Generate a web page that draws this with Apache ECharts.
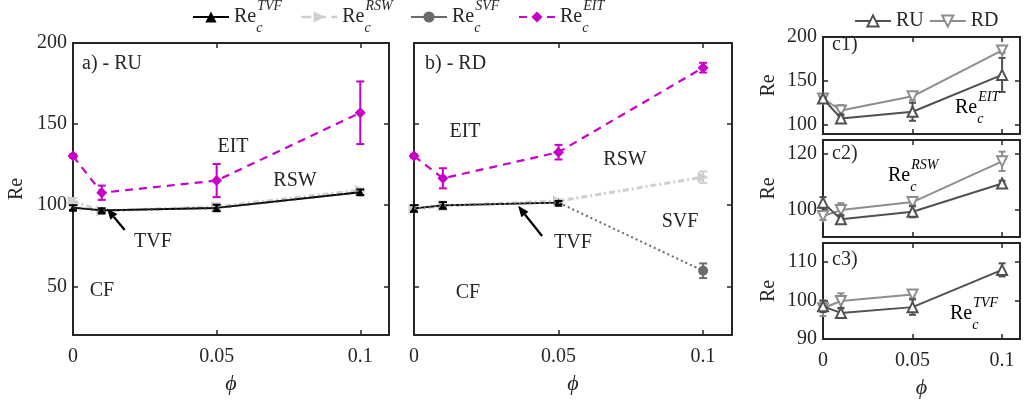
<!DOCTYPE html>
<html><head><meta charset="utf-8">
<script src="https://cdn.jsdelivr.net/npm/echarts@6/dist/echarts.min.js"></script>
<style>html,body{margin:0;padding:0;background:#fff}#c{width:1024px;height:400px}</style>
</head><body><div id="c"></div>
<script>
// ---------- data ----------
const phi = [0, 0.01, 0.05, 0.1];
const xTicks = [0, 0.05, 0.1];
const abYTicks = [50, 100, 150, 200];
const c1YTicks = [100, 150, 200];
const c2YTicks = [100, 120];
const c3YTicks = [90, 100, 110];

// panel a (RU)
const aTVF = [98.5, 96.8, 98.3, 108.0];
const aTVFerr = [1.5, 1.3, 2.0, 1.7];
const aRSW = [102.4, 96.4, 99.1, 109.3];
const aRSWerr = [2.0, 1.5, 2.0, 1.0];
const aSVF = [98.5, 96.8, 98.3, 108.0];
const aEIT = [130.3, 107.7, 115.2, 157.0];
const aEITerr = [1.0, 4.4, 10.2, 19.3];
// panel b (RD)
const bTVF = [98.0, 99.9, 101.6, null];
const bTVFerr = [2.0, 2.0, 1.0, null];
const bRSW = [97.6, 99.7, 102.6, 117.3];
const bRSWerr = [1.5, 2.5, 1.0, 3.5];
const bSVF = [98.0, 99.9, 101.6, 59.6];
const bSVFerr = [null, null, null, 4.5];
const bEIT = [130.3, 116.6, 132.7, 184.8];
const bEITerr = [1.0, 6.2, 4.5, 3.0];

// arrows (data coordinates) pointing at the TVF boundary
const arrowA = [[0.018, 84.7], [0.0118, 98.0]];
const arrowB = [[0.0443, 81.0], [0.036, 99.6]];

// ---------- style ----------
const FONT = 'Liberation Serif';
const TXT = '#262626';
const colTVF = '#000000', colRSW = '#cfcfcf', colSVF = '#6a6a6a', colEIT = '#c800c8';
const colRU = '#505050', colRD = '#8e8e8e';

const rich = {
  re: {fontFamily: FONT, fontSize: 20, color: TXT, lineHeight: 36, verticalAlign: 'middle'},
  sb: {fontFamily: FONT, fontSize: 14, fontStyle: 'italic', color: TXT, lineHeight: 12, verticalAlign: 'bottom', width: 0},
  sp: {fontFamily: FONT, fontSize: 14, fontStyle: 'italic', color: TXT, lineHeight: 25, verticalAlign: 'top', padding: [0, 0, 0, 1]}
};
const reLabel = s => '{re|Re}{sb|c}{sp|' + s + '}';

const grids = [
  {left: 73, top: 43, width: 316, height: 295},
  {left: 414, top: 43, width: 318, height: 295},
  {left: 823, top: 37, width: 197, height: 97},
  {left: 823, top: 140, width: 197, height: 97},
  {left: 823, top: 243, width: 197, height: 96}
];

const lineSt = {color: TXT, width: 2};
const tickSt = {color: TXT, width: 1.5};
const labelSt = {fontFamily: FONT, fontSize: 20, color: TXT};

const xAxes = [], yAxes = [];
function addAxes(g, xLabel, yMin, yMax, yTicks, yLabel, yName) {
  xAxes.push({
    type: 'value', gridIndex: g, min: 0, max: 0.11, position: 'bottom',
    axisLine: {show: true, onZero: false, lineStyle: lineSt},
    axisTick: {show: true, inside: true, length: 5, customValues: xTicks, lineStyle: tickSt},
    axisLabel: Object.assign({show: xLabel, customValues: xTicks, margin: 12, formatter: v => String(v)}, labelSt),
    splitLine: {show: false},
    name: xLabel ? 'ϕ' : '', nameLocation: 'middle', nameGap: 38,
    nameTextStyle: {fontFamily: FONT, fontStyle: 'italic', fontSize: 22, color: TXT}
  });
  xAxes.push({
    type: 'value', gridIndex: g, min: 0, max: 0.11, position: 'top',
    axisLine: {show: true, onZero: false, lineStyle: lineSt},
    axisTick: {show: true, inside: true, length: 5, customValues: xTicks, lineStyle: tickSt},
    axisLabel: {show: false}, splitLine: {show: false}
  });
  yAxes.push({
    type: 'value', gridIndex: g, min: yMin, max: yMax, position: 'left',
    axisLine: {show: true, onZero: false, lineStyle: lineSt},
    axisTick: {show: true, inside: true, length: 5, customValues: yTicks, lineStyle: tickSt},
    axisLabel: Object.assign({show: yLabel, customValues: yTicks, margin: 6}, labelSt),
    splitLine: {show: false},
    name: yName ? 'Re' : '', nameLocation: 'middle', nameGap: g < 2 ? 46 : 44, nameRotate: 90,
    nameTextStyle: {fontFamily: FONT, fontSize: 20, color: TXT}
  });
  yAxes.push({
    type: 'value', gridIndex: g, min: yMin, max: yMax, position: 'right',
    axisLine: {show: true, onZero: false, lineStyle: lineSt},
    axisTick: {show: true, inside: true, length: 5, customValues: yTicks, lineStyle: tickSt},
    axisLabel: {show: false}, splitLine: {show: false}
  });
}
addAxes(0, true, 20, 200, abYTicks, true, true);
addAxes(1, true, 20, 200, abYTicks, false, false);
addAxes(2, false, 90, 200, c1YTicks, true, true);
addAxes(3, false, 90, 125, c2YTicks, true, true);
addAxes(4, true, 90, 115, c3YTicks, true, true);

function pts(vals, hideIdx) {
  const out = [];
  phi.forEach((x, i) => {
    if (vals[i] == null) return;
    if (hideIdx && hideIdx.indexOf(i) >= 0) out.push({value: [x, vals[i]], symbol: 'none'});
    else out.push([x, vals[i]]);
  });
  return out;
}
function errSeries(g, vals, errs, color, capW, z) {
  const data = [];
  phi.forEach((x, i) => {
    if (vals[i] != null && errs[i] != null) data.push([x, vals[i] - errs[i], vals[i] + errs[i]]);
  });
  return {
    type: 'custom', name: 'err', xAxisIndex: 2 * g, yAxisIndex: 2 * g, z: z, silent: true,
    data: data, encode: {x: 0, y: [1, 2]},
    renderItem: (params, api) => {
      const x = api.value(0);
      const p1 = api.coord([x, api.value(1)]);
      const p2 = api.coord([x, api.value(2)]);
      const w = capW / 2;
      const st = {stroke: color, lineWidth: 2};
      return {type: 'group', children: [
        {type: 'line', shape: {x1: p1[0], y1: p1[1], x2: p2[0], y2: p2[1]}, style: st},
        {type: 'line', shape: {x1: p1[0] - w, y1: p1[1], x2: p1[0] + w, y2: p1[1]}, style: st},
        {type: 'line', shape: {x1: p2[0] - w, y1: p2[1], x2: p2[0] + w, y2: p2[1]}, style: st}
      ]};
    }
  };
}
function lineSeries(g, name, vals, color, type, width, symbol, size, z, extra) {
  return Object.assign({
    type: 'line', name: name, xAxisIndex: 2 * g, yAxisIndex: 2 * g, z: z,
    data: pts(vals), symbol: symbol, symbolSize: size, showSymbol: symbol !== 'none',
    lineStyle: {color: color, width: width, type: type},
    itemStyle: {color: color}, clip: false
  }, extra || {});
}
// arrow as a custom series so the head is drawn through the axis scales
function arrowSeries(g, a) {
  return {
    type: 'custom', name: 'arrow', xAxisIndex: 2 * g, yAxisIndex: 2 * g, z: 10, silent: true,
    data: [[a[0][0], a[0][1], a[1][0], a[1][1]]],
    encode: {x: [0, 2], y: [1, 3]},
    renderItem: (params, api) => {
      const p0 = api.coord([api.value(0), api.value(1)]);
      const p1 = api.coord([api.value(2), api.value(3)]);
      const dx = p1[0] - p0[0], dy = p1[1] - p0[1];
      const L = Math.sqrt(dx * dx + dy * dy);
      const ux = dx / L, uy = dy / L;
      const hl = 11, hw = 4.5;
      const bx = p1[0] - ux * hl, by = p1[1] - uy * hl;
      return {type: 'group', children: [
        {type: 'line', shape: {x1: p0[0], y1: p0[1], x2: bx, y2: by}, style: {stroke: '#000', lineWidth: 2.2}},
        {type: 'polygon', shape: {points: [[p1[0], p1[1]], [bx - uy * hw, by + ux * hw], [bx + uy * hw, by - ux * hw]]}, style: {fill: '#000'}}
      ]};
    }
  };
}

const series = [];
// panel a
series.push(lineSeries(0, 'RSW', aRSW, colRSW, [6, 3, 2, 3], 3, 'triangle', 11, 2, {symbolRotate: -90}));
series.push(errSeries(0, aRSW, aRSWerr, colRSW, 8, 2));
series.push(lineSeries(0, 'TVF', aTVF, colTVF, 'solid', 1.8, 'triangle', 8, 3));
series.push(errSeries(0, aTVF, aTVFerr, colTVF, 8, 3));
series.push(lineSeries(0, 'SVF', aSVF, '#333333', [2, 4], 2, 'circle', 8, 4, {showSymbol: false}));
series.push(lineSeries(0, 'EIT', aEIT, colEIT, [8, 6], 2.2, 'diamond', 11, 5));
series.push(errSeries(0, aEIT, aEITerr, colEIT, 8, 5));
series.push(arrowSeries(0, arrowA));
// panel b
series.push(lineSeries(1, 'RSW', bRSW, colRSW, [6, 3, 2, 3], 3, 'triangle', 11, 2, {symbolRotate: -90}));
series.push(errSeries(1, bRSW, bRSWerr, colRSW, 8, 2));
series.push(lineSeries(1, 'TVF', bTVF, colTVF, 'solid', 1.8, 'triangle', 8, 3));
series.push(errSeries(1, bTVF, bTVFerr, colTVF, 8, 3));
{
  const s = lineSeries(1, 'SVF', bSVF, colSVF, [2, 3], 2, 'circle', 10, 4);
  s.data = pts(bSVF, [0, 1, 2]);
  series.push(s);
}
series.push(errSeries(1, bSVF, bSVFerr, colSVF, 8, 4));
series.push(lineSeries(1, 'EIT', bEIT, colEIT, [8, 6], 2.2, 'diamond', 11, 5));
series.push(errSeries(1, bEIT, bEITerr, colEIT, 8, 5));
series.push(arrowSeries(1, arrowB));
// panels c
const cSets = [[2, aEIT, aEITerr, bEIT, bEITerr], [3, aRSW, aRSWerr, bRSW, bRSWerr], [4, aTVF, aTVFerr, bTVF, bTVFerr]];
cSets.forEach(([g, ru, rue, rd, rde]) => {
  series.push(lineSeries(g, 'RD', rd, colRD, 'solid', 2, 'emptyTriangle', 10, 3, {symbolRotate: 180, itemStyle: {color: colRD, borderWidth: 1.8}}));
  series.push(errSeries(g, rd, rde, colRD, 7, 3));
  series.push(lineSeries(g, 'RU', ru, colRU, 'solid', 2, 'emptyTriangle', 10, 4, {itemStyle: {color: colRU, borderWidth: 1.8}}));
  series.push(errSeries(g, ru, rue, colRU, 7, 4));
});

// legends
const legendPos = [
  [{name: 'TVF'}, 187],
  [{name: 'RSW', lineStyle: {type: 'dashed', color: colRSW, width: 2.5}}, 295],
  [{name: 'SVF', lineStyle: {type: 'solid', color: colSVF, width: 2}, itemStyle: {color: colSVF}}, 405],
  [{name: 'EIT'}, 513]
];
const legends = legendPos.map(([d, l]) => ({
  data: [d], left: l, top: -6, itemWidth: 36, itemHeight: 14, itemGap: 4,
  formatter: name => reLabel(name), textStyle: {rich: rich},
  selectedMode: false
}));
legends.push({
  data: ['RU', 'RD'], left: 849, top: 6, itemWidth: 36, itemHeight: 14, itemGap: 5,
  textStyle: {fontFamily: FONT, fontSize: 20, color: TXT}, selectedMode: false
});

// panel texts
function txt(t, x, y, align) {
  return {type: 'text', x: x, y: y, silent: true, z: 50,
    style: {text: t, fill: TXT, fontFamily: FONT, fontSize: 20, align: align || 'center', verticalAlign: 'middle'}};
}
function reTxt(s, x, y) {
  return {type: 'text', x: x, y: y, silent: true, z: 50,
    style: {text: reLabel(s), rich: rich, align: 'left', verticalAlign: 'middle'}};
}
const graphics = [
  txt('a) - RU', 82, 64, 'left'), txt('EIT', 233, 147), txt('RSW', 295, 181), txt('TVF', 153, 242), txt('CF', 102, 291),
  txt('b) - RD', 425, 64, 'left'), txt('EIT', 465, 132), txt('RSW', 625, 160), txt('SVF', 680, 222), txt('TVF', 573, 243), txt('CF', 468, 293),
  txt('c1)', 832, 45, 'left'), txt('c2)', 832, 154, 'left'), txt('c3)', 832, 260, 'left'),
  reTxt('EIT', 955, 108), reTxt('RSW', 888, 176), reTxt('TVF', 950, 314)
];

const chart = echarts.init(document.getElementById('c'), null, {renderer: 'canvas'});
chart.setOption({
  animation: false,
  backgroundColor: '#ffffff',
  grid: grids,
  xAxis: xAxes,
  yAxis: yAxes,
  legend: legends,
  series: series,
  graphic: graphics
});
</script>
</body></html>
